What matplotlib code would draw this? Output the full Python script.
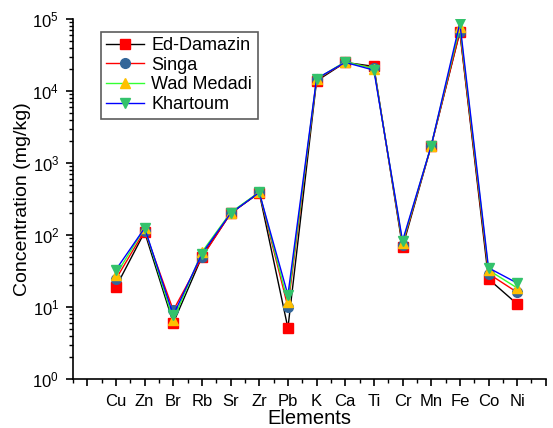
import matplotlib
matplotlib.use('Agg')
import matplotlib.pyplot as plt
from matplotlib.ticker import FixedLocator, LogLocator, NullFormatter

plt.rcParams['font.family'] = ['Liberation Sans', 'DejaVu Sans']
plt.rcParams['mathtext.default'] = 'regular'

elements = ['Cu', 'Zn', 'Br', 'Rb', 'Sr', 'Zr', 'Pb', 'K', 'Ca', 'Ti',
            'Cr', 'Mn', 'Fe', 'Co', 'Ni']
ed_damazin = [19, 110, 6, 50, 200, 385, 5.1, 13800, 25000, 22000, 68, 1730, 66000, 24.5, 11]
singa = [24.5, 115, 9, 49, 200, 390, 10, 14500, 25000, 21000, 73, 1730, 67000, 29, 16]
wad_medadi = [28, 125, 6.6, 58, 205, 395, 11.7, 14700, 25500, 20500, 78, 1750, 78000, 32.6, 18.4]
khartoum = [33, 125, 7.7, 55, 200, 390, 14.7, 14900, 25000, 19500, 83, 1730, 88000, 35, 21.5]

series = [
    ('Ed-Damazin', ed_damazin, 'black', 's', 'red'),
    ('Singa', singa, 'red', 'o', '#336699'),
    ('Wad Medadi', wad_medadi, '#33ff33', '^', '#ffc000'),
    ('Khartoum', khartoum, 'blue', 'v', '#33c26b'),
]

fig = plt.figure(figsize=(5.53, 4.28), dpi=100)
ax = fig.add_axes([0.132, 0.1145, 0.855, 0.841])

x = list(range(1, len(elements) + 1))
for name, vals, lc, mk, mc in series:
    ax.plot(x, vals, color=lc, lw=1.0, marker=mk, markersize=7,
            markerfacecolor=mc, markeredgecolor=mc, label=name)

ax.set_yscale('log')
ax.set_ylim(1, 1e5)
ax.set_xlim(-0.5, 16)

ax.xaxis.set_major_locator(FixedLocator(range(0, 17)))
ax.xaxis.set_minor_locator(FixedLocator([i + 0.5 for i in range(-1, 16)]))
ax.set_xticklabels([''] + elements + [''])
ax.yaxis.set_major_locator(LogLocator(base=10, numticks=10))
ax.yaxis.set_minor_locator(LogLocator(base=10, subs=range(2, 10), numticks=20))
ax.yaxis.set_minor_formatter(NullFormatter())

for s in ['top', 'right']:
    ax.spines[s].set_visible(False)
ax.spines['left'].set_linewidth(1.2)
ax.spines['bottom'].set_linewidth(1.2)
ax.tick_params(which='major', direction='out', length=5, width=1.2, labelsize=12)
ax.tick_params(axis='x', which='major', pad=6)
ax.tick_params(axis='y', which='major', pad=5)
ax.tick_params(which='minor', direction='out', length=3, width=1)

ax.set_xlabel('Elements', fontsize=14.5, labelpad=0)
ax.set_ylabel('Concentration (mg/kg)', fontsize=14, labelpad=1)

leg = ax.legend(loc='upper left', bbox_to_anchor=(0.059, 0.965), fontsize=13,
                frameon=True, fancybox=False, edgecolor='#333333',
                handlelength=2.1, borderpad=0.3, labelspacing=0.15,
                handletextpad=0.4, borderaxespad=0)
leg.get_frame().set_linewidth(1.2)

fig.savefig('out.png', dpi=100)
